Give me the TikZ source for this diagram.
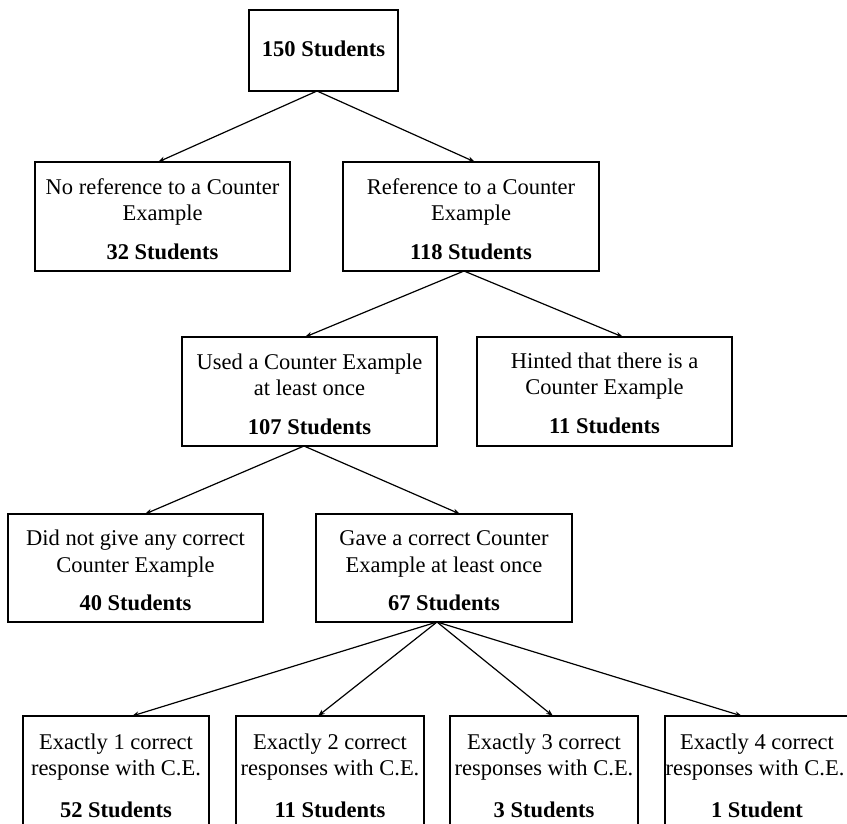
\documentclass[tikz,border=0pt]{standalone}
\usepackage{fontspec}
\setmainfont{Liberation Serif}
\usetikzlibrary{arrows.meta}
\begin{document}
\begin{tikzpicture}[x=1pt,y=-1pt,
  box/.style={draw, line width=1.7pt, inner sep=0pt, outer sep=0pt},
  txt/.style={anchor=base, inner sep=0pt, font=\fontsize{22.5}{27}\selectfont},
  num/.style={anchor=base, inner sep=0pt, font=\fontsize{22.5}{27}\selectfont\bfseries},
  arr/.style={-{Stealth[length=7pt,width=5pt]}, line width=1.2pt}]
\useasboundingbox (0,0) rectangle (847,823);
\begin{scope}
\clip (0,0) rectangle (847,823);
% boxes
\node[box, minimum width=149pt, minimum height=81pt] (top) at (323.5,50.5) {};
\node[box, minimum width=255pt, minimum height=109pt] (noref) at (162.5,216.5) {};
\node[box, minimum width=256pt, minimum height=109pt] (ref) at (471,216.5) {};
\node[box, minimum width=255pt, minimum height=109pt] (used) at (309.5,391.5) {};
\node[box, minimum width=255pt, minimum height=109pt] (hint) at (604.5,391.5) {};
\node[box, minimum width=255pt, minimum height=108pt] (didnot) at (135.5,568) {};
\node[box, minimum width=256pt, minimum height=108pt] (gave) at (444,568) {};
\node[box, minimum width=186pt, minimum height=128pt] (b1) at (116,780) {};
\node[box, minimum width=188pt, minimum height=128pt] (b2) at (330,780) {};
\node[box, minimum width=188pt, minimum height=128pt] (b3) at (544,780) {};
\node[box, minimum width=190pt, minimum height=128pt] (b4) at (760,780) {};
% texts
\node[num] (topN) at (323.5,56) {150 Students};
\node[txt] (norefA) at (162.5,194) {No reference to a Counter};
\node[txt] (norefB) at (162.5,220) {Example};
\node[num] (norefN) at (162.5,259) {32 Students};
\node[txt] (refA) at (471,194) {Reference to a Counter};
\node[txt] (refB) at (471,220) {Example};
\node[num] (refN) at (471,259) {118 Students};
\node[txt] (usedA) at (309.5,369) {Used a Counter Example};
\node[txt] (usedB) at (309.5,395) {at least once};
\node[num] (usedN) at (309.5,434) {107 Students};
\node[txt] (hintA) at (604.5,368) {Hinted that there is a};
\node[txt] (hintB) at (604.5,394) {Counter Example};
\node[num] (hintN) at (604.5,433) {11 Students};
\node[txt] (didnotA) at (135.5,545) {Did not give any correct};
\node[txt] (didnotB) at (135.5,572) {Counter Example};
\node[num] (didnotN) at (135.5,610) {40 Students};
\node[txt] (gaveA) at (444,545) {Gave a correct Counter};
\node[txt] (gaveB) at (444,572) {Example at least once};
\node[num] (gaveN) at (444,610) {67 Students};
\node[txt] (b1A) at (116,749) {Exactly 1 correct};
\node[txt] (b1B) at (116,775) {response with C.E.};
\node[num] (b1N) at (116,817) {52 Students};
\node[txt] (b2A) at (330,749) {Exactly 2 correct};
\node[txt] (b2B) at (330,775) {responses with C.E.};
\node[num] (b2N) at (330,817) {11 Students};
\node[txt] (b3A) at (544,749) {Exactly 3 correct};
\node[txt] (b3B) at (544,775) {responses with C.E.};
\node[num] (b3N) at (544,817) {3 Students};
\node[txt] (b4A) at (757,749) {Exactly 4 correct};
\node[txt] (b4B) at (755,775) {responses with C.E.};
\node[num] (b4N) at (757,817) {1 Student};
% arrows
\draw[arr] ([xshift=-6.5pt]top.south) -- ([xshift=-4.5pt]noref.north);
\draw[arr] ([xshift=-6.5pt]top.south) -- ([xshift=4pt]ref.north);
\draw[arr] ([xshift=-7pt]ref.south) -- ([xshift=-4.5pt]used.north);
\draw[arr] ([xshift=-7pt]ref.south) -- ([xshift=18.5pt]hint.north);
\draw[arr] ([xshift=-5.5pt]used.south) -- ([xshift=9.5pt]didnot.north);
\draw[arr] ([xshift=-5.5pt]used.south) -- ([xshift=16pt]gave.north);
\draw[arr] ([xshift=-7pt]gave.south) -- ([xshift=16pt]b1.north);
\draw[arr] ([xshift=-7pt]gave.south) -- ([xshift=-12pt]b2.north);
\draw[arr] ([xshift=-7pt]gave.south) -- ([xshift=9pt]b3.north);
\draw[arr] ([xshift=-7pt]gave.south) -- ([xshift=-18pt]b4.north);
\end{scope}
\end{tikzpicture}
\end{document}
